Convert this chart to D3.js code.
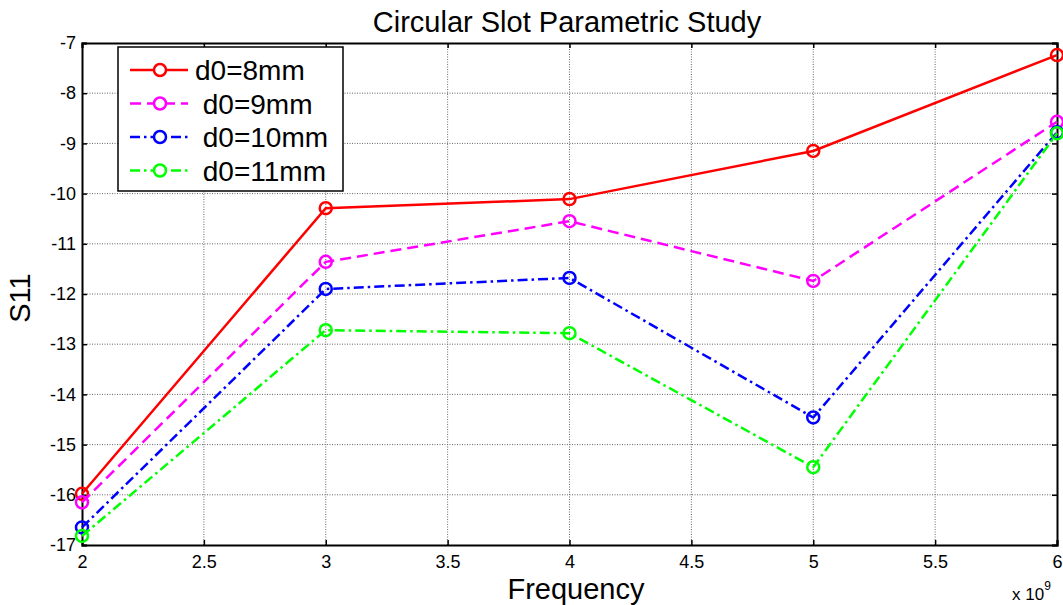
<!DOCTYPE html>
<html>
<head>
<meta charset="utf-8">
<script src="https://cdn.jsdelivr.net/npm/d3@7"></script>
<style>
  body { margin: 0; background: #fff; }
  svg { font-family: "Liberation Sans", Arial, sans-serif; }
</style>
</head>
<body>
<div id="chart"></div>
<script>
const width = 1063;
const height = 605;

// data (frequency in units of 1e9 Hz)
const freqs = [2, 3, 4, 5, 6];
const labels = ["d0=8mm", " d0=9mm", " d0=10mm", " d0=11mm"];
const s11_8mm  = [-15.98, -10.29, -10.11, -9.15, -7.24];
const s11_9mm  = [-16.15, -11.36, -10.55, -11.74, -8.57];
const s11_10mm = [-16.65, -11.90, -11.68, -14.46, -8.78];
const s11_11mm = [-16.82, -12.72, -12.78, -15.45, -8.80];
const xTicks = [2, 2.5, 3, 3.5, 4, 4.5, 5, 5.5, 6];
const yTicks = [-7, -8, -9, -10, -11, -12, -13, -14, -15, -16, -17];

const series = [
  { name: labels[0], values: s11_8mm,  color: "#ff0000", dash: null },
  { name: labels[1], values: s11_9mm,  color: "#ff00ff", dash: "11,6" },
  { name: labels[2], values: s11_10mm, color: "#0000ff", dash: "10,4,2.5,4" },
  { name: labels[3], values: s11_11mm, color: "#00ff00", dash: "10,4,2.5,4" }
];

const margin = { left: 82, right: 6, top: 43, bottom: 60 };
const x = d3.scaleLinear().domain([2, 6]).range([margin.left, width - margin.right]);
const y = d3.scaleLinear().domain([-17, -7]).range([height - margin.bottom, margin.top]);

// plain hyphen for negatives, like the original
const fmt = d => d3.format("~g")(d).replace("\u2212", "-");

const svg = d3.select("#chart").append("svg")
  .attr("width", width)
  .attr("height", height);

// grid
const grid = svg.append("g");
grid.selectAll("line.gx")
  .data(xTicks.slice(1, -1))
  .enter().append("line")
  .attr("x1", d => x(d)).attr("x2", d => x(d))
  .attr("y1", y(-17)).attr("y2", y(-7))
  .attr("stroke", "#666").attr("stroke-width", 1)
  .attr("stroke-dasharray", "1,1.5");
grid.selectAll("line.gy")
  .data(yTicks.slice(1, -1))
  .enter().append("line")
  .attr("x1", x(2)).attr("x2", x(6))
  .attr("y1", d => y(d)).attr("y2", d => y(d))
  .attr("stroke", "#666").attr("stroke-width", 1)
  .attr("stroke-dasharray", "1,1.5");

// axes (ticks inward, mirrored)
const tickLen = 5;
const xAxisB = d3.axisBottom(x).tickValues(xTicks).tickSize(-tickLen).tickPadding(10).tickFormat(fmt);
const xAxisT = d3.axisTop(x).tickValues(xTicks).tickSize(-tickLen).tickFormat("");
const yAxisL = d3.axisLeft(y).tickValues(yTicks).tickSize(-tickLen).tickPadding(6).tickFormat(fmt);
const yAxisR = d3.axisRight(y).tickValues(yTicks).tickSize(-tickLen).tickFormat("");

function styleAxis(g) {
  g.select(".domain").attr("stroke", "#000").attr("stroke-width", 2);
  g.selectAll(".tick line").attr("stroke", "#000").attr("stroke-width", 1.5);
  g.selectAll(".tick text").attr("fill", "#000").style("font-size", "18px");
}

svg.append("g").attr("transform", `translate(0,${y(-17)})`).call(xAxisB).call(styleAxis);
svg.append("g").attr("transform", `translate(0,${y(-7)})`).call(xAxisT).call(styleAxis);
svg.append("g").attr("transform", `translate(${x(2)},0)`).call(yAxisL).call(styleAxis);
svg.append("g").attr("transform", `translate(${x(6)},0)`).call(yAxisR).call(styleAxis);

// lines and markers
const line = d3.line()
  .x((d, i) => x(freqs[i]))
  .y(d => y(d));

series.forEach(s => {
  svg.append("path")
    .datum(s.values)
    .attr("d", line)
    .attr("fill", "none")
    .attr("stroke", s.color)
    .attr("stroke-width", 2.5)
    .attr("stroke-dasharray", s.dash);
  svg.selectAll(null)
    .data(s.values)
    .enter().append("circle")
    .attr("cx", (d, i) => x(freqs[i]))
    .attr("cy", d => y(d))
    .attr("r", 6)
    .attr("fill", "none")
    .attr("stroke", s.color)
    .attr("stroke-width", 2.5);
});

// legend
const legend = svg.append("g").attr("transform", "translate(118,47)");
legend.append("rect")
  .attr("width", 225).attr("height", 144)
  .attr("fill", "#fff").attr("stroke", "#000").attr("stroke-width", 1.5);
series.forEach((s, i) => {
  const ly = 23 + i * 33.5;
  legend.append("line")
    .attr("x1", 12).attr("x2", 70)
    .attr("y1", ly).attr("y2", ly)
    .attr("stroke", s.color).attr("stroke-width", 2.5)
    .attr("stroke-dasharray", s.dash);
  legend.append("circle")
    .attr("cx", 42).attr("cy", ly).attr("r", 6)
    .attr("fill", "#fff").attr("stroke", s.color).attr("stroke-width", 2.5);
  legend.append("text")
    .attr("x", 77).attr("y", ly)
    .attr("dy", "0.36em")
    .style("font-size", "28px")
    .style("white-space", "pre")
    .attr("xml:space", "preserve")
    .text(s.name);
});

// title and labels
svg.append("text")
  .attr("x", 567).attr("y", 32)
  .attr("text-anchor", "middle")
  .style("font-size", "29px")
  .text("Circular Slot Parametric Study");

svg.append("text")
  .attr("x", 576).attr("y", 599)
  .attr("text-anchor", "middle")
  .style("font-size", "29px")
  .text("Frequency");

svg.append("text")
  .attr("transform", `translate(30,${(y(-7) + y(-17)) / 2 + 4}) rotate(-90)`)
  .attr("text-anchor", "middle")
  .style("font-size", "29px")
  .text("S11");

const expo = svg.append("text")
  .attr("x", 1012).attr("y", 600)
  .style("font-size", "17px")
  .text("x 10");
expo.append("tspan")
  .attr("dy", -10)
  .style("font-size", "12px")
  .text("9");
</script>
</body>
</html>
